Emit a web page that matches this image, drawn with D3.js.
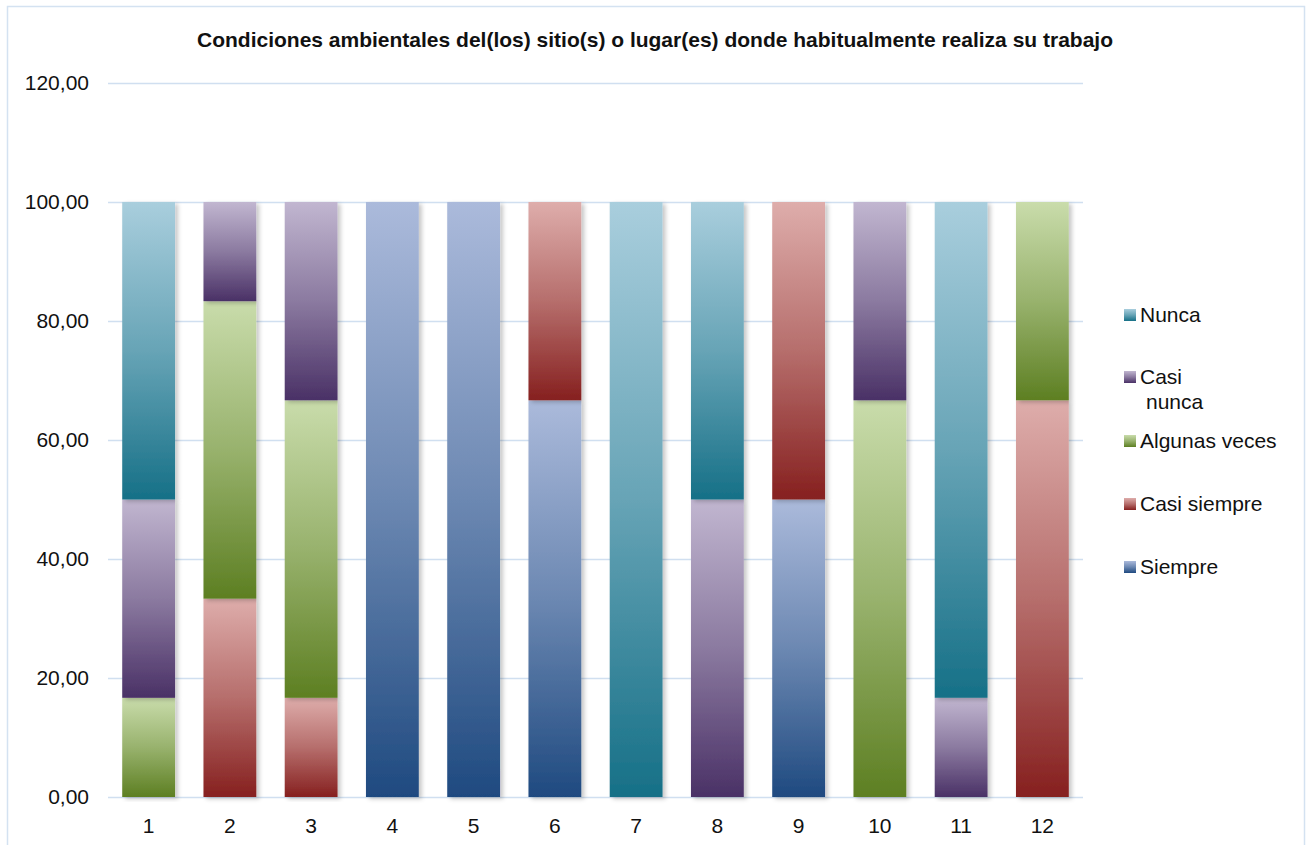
<!DOCTYPE html>
<html>
<head>
<meta charset="utf-8">
<script src="https://cdn.jsdelivr.net/npm/d3@7"></script>
<style>
  html, body { margin: 0; padding: 0; background: #fff; }
  svg { display: block; font-family: "Liberation Sans", Arial, sans-serif; }
</style>
</head>
<body>
<svg id="chart" width="1306" height="845"></svg>
<script>
// Categories (items 1..12) and percentage of answers for each frequency level
const categories = ["1","2","3","4","5","6","7","8","9","10","11","12"];
const siempre      = [0,     0,     0,     100, 100, 66.67, 0,   0,  50, 0,     0,     0];
const casiSiempre  = [0,     33.33, 16.67, 0,   0,   33.33, 0,   0,  50, 0,     0,     66.67];
const algunasVeces = [16.67, 50,    50,    0,   0,   0,     0,   0,  0,  66.67, 0,     33.33];
const casiNunca    = [33.33, 16.67, 33.33, 0,   0,   0,     0,   50, 0,  33.33, 16.67, 0];
const nunca        = [50,    0,     0,     0,   0,   0,     100, 50, 0,  0,     83.33, 0];
const seriesNames  = ["Siempre", "Casi siempre", "Algunas veces", "Casi nunca", "Nunca"];
const yTicks       = [0, 20, 40, 60, 80, 100, 120];
const title = "Condiciones ambientales del(los) sitio(s) o lugar(es) donde habitualmente realiza su trabajo";

// dark (bottom) / light (top) shade of each series gradient
const shades = [
  ["#1f4a80", "#abbadb"],
  ["#86201f", "#deadab"],
  ["#5d7f22", "#c9dcab"],
  ["#4a3166", "#c1b6d0"],
  ["#167087", "#a9cedd"]
];

const seriesValues = [siempre, casiSiempre, algunasVeces, casiNunca, nunca];
const rows = categories.map((c, i) => {
  const r = { cat: c };
  seriesNames.forEach((s, k) => r[s] = seriesValues[k][i]);
  return r;
});
const stacked = d3.stack().keys(seriesNames)(rows);

const svg = d3.select("#chart");
const defs = svg.append("defs");

shades.forEach((sh, k) => {
  const g = defs.append("linearGradient")
    .attr("id", "grad" + k)
    .attr("x1", 0).attr("y1", 1).attr("x2", 0).attr("y2", 0);
  g.append("stop").attr("offset", "0%").attr("stop-color", sh[0]);
  g.append("stop").attr("offset", "50%").attr("stop-color", d3.interpolateRgb(sh[0], sh[1])(0.55));
  g.append("stop").attr("offset", "100%").attr("stop-color", sh[1]);
});

const shadow = defs.append("filter").attr("id", "shadow")
  .attr("x", "-20%").attr("y", "-5%").attr("width", "150%").attr("height", "110%");
shadow.append("feDropShadow").attr("dx", 3).attr("dy", 2).attr("stdDeviation", 2)
  .attr("flood-color", "#000").attr("flood-opacity", 0.22);

// outer frame
svg.append("rect").attr("x", 7.5).attr("y", 6.5).attr("width", 1297).attr("height", 850)
  .attr("fill", "none").attr("stroke", "#d4e2f1").attr("stroke-width", 1.5);

const x = d3.scaleBand().domain(categories).range([108, 1083]).paddingInner(0.35).paddingOuter(0.175);
const y = d3.scaleLinear().domain([0, 120]).range([797, 83]);

// horizontal gridlines
svg.append("g").selectAll("line").data(yTicks).join("line")
  .attr("x1", 108).attr("x2", 1083)
  .attr("y1", d => Math.round(y(d)) + 0.5).attr("y2", d => Math.round(y(d)) + 0.5)
  .attr("stroke", "#d0dff0").attr("stroke-width", 1.5);

// y axis labels
const fmt = d => d3.format(".2f")(d).replace(".", ",");
svg.append("g").selectAll("text").data(yTicks).join("text")
  .attr("x", 89).attr("y", d => y(d)).attr("dy", "0.35em")
  .attr("text-anchor", "end").attr("font-size", 21).attr("fill", "#111")
  .text(fmt);

// stacked bars
const barsG = svg.append("g");
stacked.forEach((layer, k) => {
  barsG.append("g").selectAll("rect")
    .data(layer.filter(d => d[1] - d[0] > 0))
    .join("rect")
    .attr("x", d => x(d.data.cat))
    .attr("width", x.bandwidth())
    .attr("y", d => y(d[1]))
    .attr("height", d => y(d[0]) - y(d[1]))
    .attr("fill", `url(#grad${k})`)
    .attr("filter", "url(#shadow)");
});

// x axis labels
svg.append("g").selectAll("text").data(categories).join("text")
  .attr("x", d => x(d) + x.bandwidth() / 2).attr("y", 833)
  .attr("text-anchor", "middle").attr("font-size", 21).attr("fill", "#111")
  .text(d => d);

// title
svg.append("text").attr("x", 655).attr("y", 47)
  .attr("text-anchor", "middle").attr("font-size", 21).attr("font-weight", "bold")
  .attr("fill", "#111").text(title);

// legend (reverse order, top = Nunca)
const legendY = [315, 377, 441, 504, 567];
const legendItems = seriesNames.map((s, k) => ({ name: s, k })).reverse();
const lg = svg.append("g");
legendItems.forEach((it, i) => {
  const yy = legendY[i];
  lg.append("rect").attr("x", 1124).attr("y", yy - 6).attr("width", 12).attr("height", 12)
    .attr("fill", `url(#grad${it.k})`);
  const t = lg.append("text").attr("x", 1140).attr("y", yy).attr("dy", "0.35em")
    .attr("font-size", 21).attr("fill", "#111");
  if (it.name === "Casi nunca") {
    t.append("tspan").attr("x", 1140).text("Casi");
    t.append("tspan").attr("x", 1146).attr("dy", 25).text("nunca");
  } else {
    t.text(it.name);
  }
});
</script>
</body>
</html>
